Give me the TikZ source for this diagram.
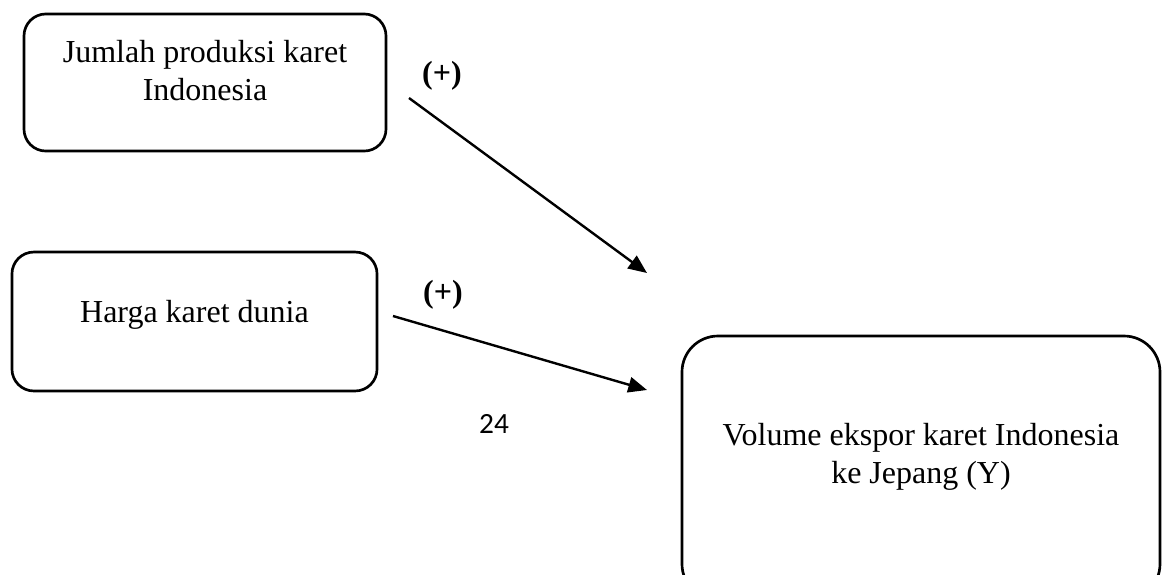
\documentclass[tikz,border=0pt]{standalone}
\usepackage{fontspec}
\setmainfont{Liberation Serif}
\newfontfamily\halamanfont{Carlito}
\usetikzlibrary{arrows.meta}

\begin{document}
\begin{tikzpicture}[x=0.375pt,y=-0.375pt,>={Triangle[length=7pt,width=5.8pt]},
  kotak/.style={draw,line width=1pt,rounded corners=8.2pt,inner sep=0pt},
  teks/.style={align=center,anchor=north,inner sep=0pt,font=\fontsize{12pt}{14.25pt}\selectfont},
  tanda/.style={inner sep=0pt,font=\fontsize{12pt}{14.25pt}\selectfont\bfseries}]
  \useasboundingbox (0,0) rectangle (1169,574);
  \clip (0,0) rectangle (1169,574);

  % kotak variabel
  \node[kotak,minimum width=135.75pt,minimum height=51.4pt] (produksi) at (205,82.5) {};
  \node[kotak,minimum width=136.9pt,minimum height=52.1pt] (harga) at (194.5,321.5) {};
  \node[kotak,rounded corners=13.5pt,minimum width=179.25pt,minimum height=99pt] (ekspor) at (921,468) {};

  \node[teks] (produksiteks) at (205,40) {Jumlah produksi karet\\Indonesia};
  \node[teks] (hargateks) at (194.5,300) {Harga karet dunia};
  \node[teks] (eksporteks) at (921,423) {Volume ekspor karet Indonesia\\ke Jepang (Y)};

  % ujung panah
  \coordinate (dariproduksi) at (409,98);
  \coordinate (keekspor1) at (647,273);
  \coordinate (dariharga) at (393,316);
  \coordinate (keekspor2) at (647,390);

  % X1 -> Y, X2 -> Y:
  \draw[->,line width=0.9pt] (dariproduksi) -- (keekspor1);
  \draw[->,line width=0.9pt] (dariharga) -- (keekspor2);

  \node[tanda] (tanda1) at (442,76) {(+)};
  \node[tanda] (tanda2) at (443,295) {(+)};

  \node[inner sep=0pt,font=\halamanfont\fontsize{11pt}{13pt}\selectfont] (halaman) at (494,424) {24};
\end{tikzpicture}
\end{document}
